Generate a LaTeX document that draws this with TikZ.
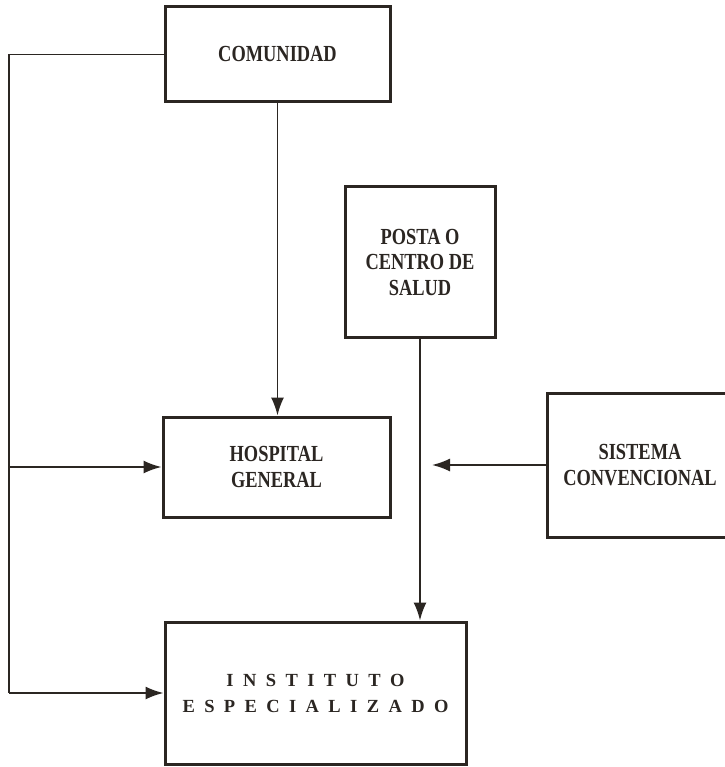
\documentclass[tikz,border=0pt]{standalone}
\usepackage{fontspec}
\setmainfont{Liberation Serif}
\newfontfamily\boxfont[FakeStretch=0.80]{Liberation Serif}
\usetikzlibrary{arrows.meta}
\definecolor{ink}{HTML}{2B2622}
\newcommand\gp{\hspace{9.4pt}}
\begin{document}
\begin{tikzpicture}[x=1pt,y=-1pt,
  box/.style={draw=ink, line width=3pt, fill=white, align=center, inner sep=0pt,
    text=ink, font=\boxfont\bfseries\fontsize{23}{25.5}\selectfont},
  conn/.style={draw=ink, line width=1.8pt},
  arr/.style={conn, -{Latex[length=18pt,width=13pt]}}]
\fill[white] (0,0) rectangle (724,767);
\useasboundingbox (0,0) rectangle (724,767);
\node[box, minimum width=225pt, minimum height=95pt] (com) at (277.5,54.5) {COMUNIDAD};
\node[box, minimum width=150pt, minimum height=150pt] (posta) at (420,262) {POSTA O\\CENTRO DE\\SALUD};
\node[box, minimum width=227pt, minimum height=100pt] (hosp) at (276.5,467) {HOSPITAL\\GENERAL};
\node[box, minimum width=186pt, minimum height=144pt] (sis) at (640,465) {SISTEMA\\CONVENCIONAL};
\node[box, minimum width=301pt, minimum height=142pt, font=\bfseries\fontsize{18.5}{26}\selectfont] (inst) at (315.5,693)
  {I\gp N\gp S\gp T\gp I\gp T\gp U\gp T\gp O\\E\gp S\gp P\gp E\gp C\gp I\gp A\gp L\gp I\gp Z\gp A\gp D\gp O};
\coordinate (L) at (9,0);
\coordinate (sx) at (432,0);
\draw[conn] (com.west) -- (com.west -| L) -- (inst.west -| L);
\draw[arr] (hosp.west -| L) -- (hosp.west);
\draw[arr] (inst.west -| L) -- (inst.west);
\draw[arr] (com.south) -- (com.south |- hosp.north);
\draw[arr] (posta.south) -- (posta.south |- inst.north);
\draw[arr] (sis.west) -- (sis.west -| sx);
\end{tikzpicture}
\end{document}
